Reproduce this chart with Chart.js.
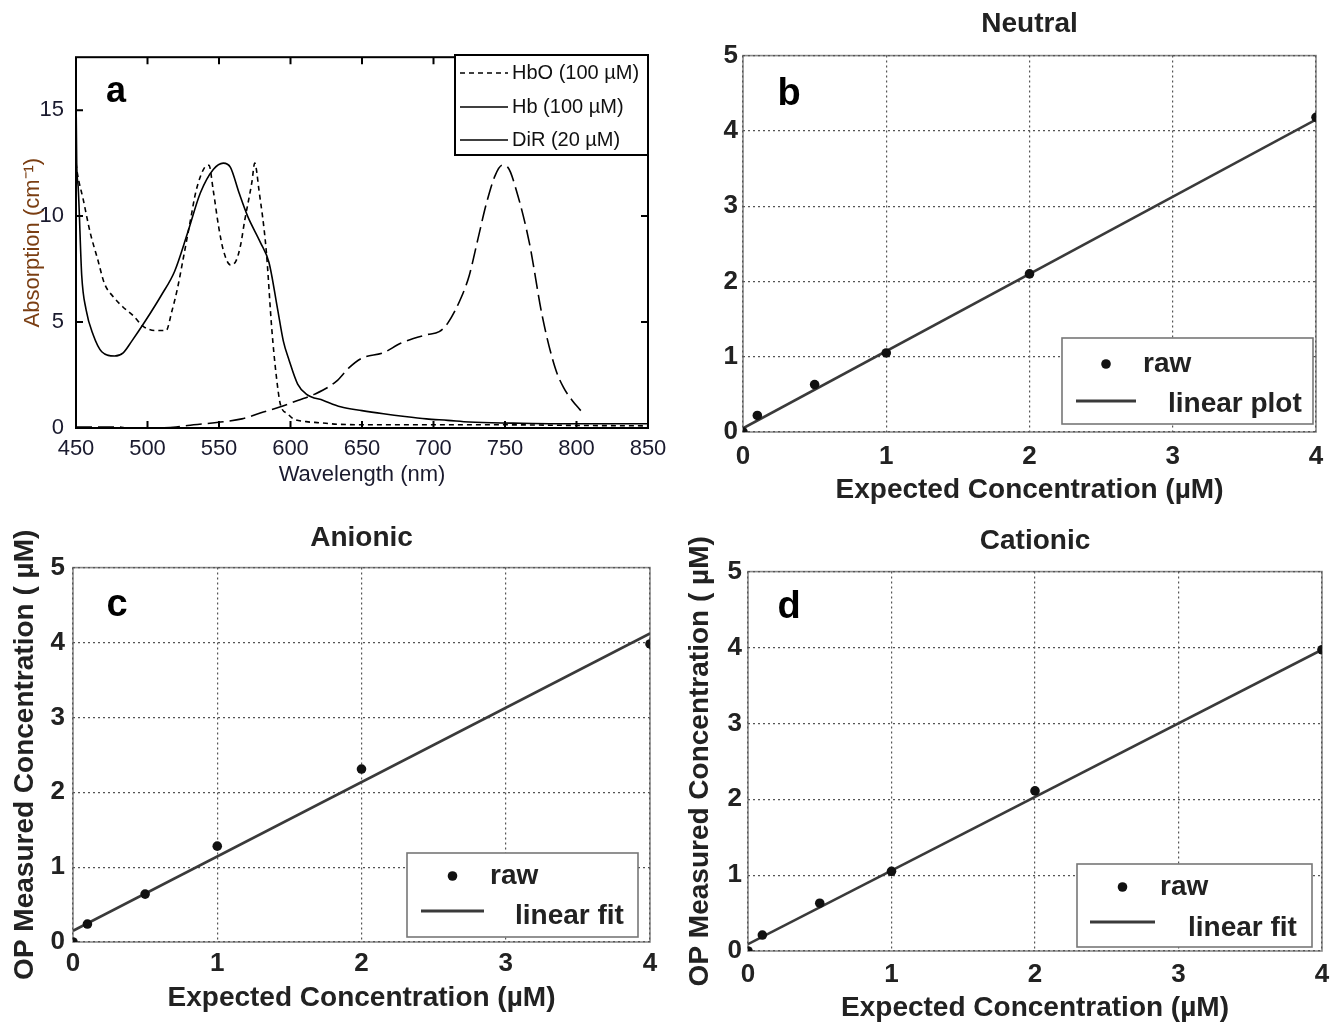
<!DOCTYPE html>
<html lang="en">
<head>
<meta charset="UTF-8">
<title>Absorption spectra and OP measured concentration</title>
<script src="https://cdn.jsdelivr.net/npm/chart.js"></script>
<style>
  body { margin: 0; background: #fff; width: 1340px; height: 1026px; position: relative; overflow: hidden; }
  canvas { position: absolute; }
  #panelA { left: 0; top: 40px; }
  #panelB { left: 700px; top: 0; }
  #panelC { left: 0; top: 515px; }
  #panelD { left: 680px; top: 515px; }
</style>
</head>
<body>
<canvas id="panelA" width="680" height="470"></canvas>
<canvas id="panelB" width="640" height="510"></canvas>
<canvas id="panelC" width="670" height="511"></canvas>
<canvas id="panelD" width="660" height="511"></canvas>
<script>
// panel a - absorption spectra
const hboWl  = [450, 451, 455, 460, 465, 470, 476, 483, 490, 497, 505, 513, 517, 521, 525, 530, 534, 540, 543, 546, 550, 553, 558, 562, 565, 568, 573, 575, 578, 583, 587, 590, 593, 598, 602, 611, 620, 635, 660, 700, 750, 800, 850];
const hboAbs = [12.5, 12.0, 10.8, 9.2, 8.0, 6.8, 6.2, 5.7, 5.3, 4.8, 4.6, 4.6, 5.5, 6.6, 8.0, 9.8, 11.2, 12.3, 12.4, 11.2, 9.4, 8.4, 7.7, 7.9, 8.6, 9.8, 11.6, 12.5, 11.2, 8.4, 4.6, 2.5, 1.1, 0.67, 0.43, 0.3, 0.25, 0.17, 0.15, 0.15, 0.15, 0.12, 0.1];

const hbWl  = [450, 450.5, 451.5, 454, 457, 462, 468, 477, 483, 489, 498, 510, 519, 528, 537, 546, 553, 558, 564, 570, 579, 585, 591, 595, 599, 605, 611, 623, 635, 650, 665, 680, 695, 710, 725, 756, 786, 850];
const hbAbs = [16.0, 12.5, 11.4, 7.2, 5.6, 4.4, 3.6, 3.4, 3.55, 4.1, 5.0, 6.3, 7.4, 9.2, 11.1, 12.2, 12.5, 12.3, 11.1, 10.0, 8.75, 7.8, 5.6, 4.1, 3.2, 2.07, 1.6, 1.3, 1.0, 0.82, 0.67, 0.54, 0.43, 0.36, 0.28, 0.23, 0.2, 0.2];

const dirWl  = [450, 480, 486, 500, 520, 528, 551, 566, 581, 593, 605, 617, 632, 641, 650, 665, 677, 695, 704, 710, 719, 725, 731, 737, 743, 748, 752, 758, 767, 776, 785, 791, 797, 803];
const dirAbs = [0.05, 0.05, 0, 0, 0.05, 0.12, 0.28, 0.43, 0.75, 1.0, 1.3, 1.6, 2.2, 2.85, 3.3, 3.55, 4.0, 4.4, 4.55, 4.95, 6.1, 7.2, 8.9, 10.6, 11.9, 12.4, 12.3, 11.2, 8.75, 5.3, 2.85, 1.9, 1.3, 0.82];

const wlTicks  = [450, 500, 550, 600, 650, 700, 750, 800, 850];
const absTicks = [0, 5, 10, 15];

// panels b, c, d - expected vs measured concentration
const concX       = [0, 0.1, 0.5, 1, 2, 4];
const neutralRaw  = [0, 0.22, 0.63, 1.05, 2.1, 4.18];
const anionicRaw  = [0, 0.24, 0.64, 1.28, 2.31, 3.98];
const cationicRaw = [0, 0.21, 0.63, 1.05, 2.11, 3.97];

const fitX        = [0, 4];
const neutralFit  = [0.05, 4.15];
const anionicFit  = [0.15, 4.12];
const cationicFit = [0.09, 3.97];

const concTicks = [0, 1, 2, 3, 4];
const measTicks = [0, 1, 2, 3, 4, 5];

const SANS = "'Liberation Sans', Arial, sans-serif";

function pairs(xs, ys) {
  return xs.map((x, i) => ({ x: x, y: ys[i] }));
}

// box around the plot area, optional inward ticks (matlab style)
const frameTicks = {
  id: 'frameTicks',
  draw(chart, opts) {
    const { ctx, chartArea: a, scales } = chart;
    ctx.save();
    ctx.setLineDash([]);
    ctx.strokeStyle = opts.color;
    ctx.lineWidth = opts.width;
    ctx.strokeRect(a.left, a.top, a.right - a.left, a.bottom - a.top);
    if (opts.tickLen) {
      const t = opts.tickLen;
      ctx.beginPath();
      scales.x.ticks.forEach(tk => {
        const px = scales.x.getPixelForValue(tk.value);
        ctx.moveTo(px, a.bottom); ctx.lineTo(px, a.bottom - t);
        ctx.moveTo(px, a.top); ctx.lineTo(px, a.top + t);
      });
      scales.y.ticks.forEach(tk => {
        const py = scales.y.getPixelForValue(tk.value);
        ctx.moveTo(a.left, py); ctx.lineTo(a.left + t, py);
        ctx.moveTo(a.right, py); ctx.lineTo(a.right - t, py);
      });
      ctx.stroke();
    }
    ctx.restore();
  },
  beforeDraw(chart, args, opts) { if (opts.under) this.draw(chart, opts); },
  afterDatasetsDraw(chart, args, opts) { if (!opts.under) this.draw(chart, opts); }
};

// panel letter and the boxed legend inside the plot
const panelDecor = {
  id: 'panelDecor',
  afterDraw(chart, args, opts) {
    const ctx = chart.ctx;
    ctx.save();
    ctx.fillStyle = '#000';
    ctx.font = opts.letterFont;
    ctx.textAlign = 'center';
    ctx.textBaseline = 'middle';
    ctx.fillText(opts.letter, opts.letterX, opts.letterY);

    const lg = opts.legend;
    ctx.fillStyle = '#fff';
    ctx.fillRect(lg.x, lg.y, lg.w, lg.h);
    ctx.strokeStyle = lg.border;
    ctx.lineWidth = lg.borderWidth;
    ctx.strokeRect(lg.x, lg.y, lg.w, lg.h);

    ctx.font = lg.font;
    ctx.textAlign = 'left';
    lg.items.forEach(it => {
      const ds = chart.data.datasets[it.ds];
      if (it.dot) {
        ctx.fillStyle = ds.pointBackgroundColor;
        ctx.beginPath();
        ctx.arc((it.x0 + it.x1) / 2, it.y, ds.pointRadius, 0, Math.PI * 2);
        ctx.fill();
      } else {
        ctx.strokeStyle = ds.borderColor;
        ctx.lineWidth = it.lineWidth || ds.borderWidth;
        ctx.setLineDash(it.dash);
        ctx.beginPath();
        ctx.moveTo(it.x0, it.y);
        ctx.lineTo(it.x1, it.y);
        ctx.stroke();
        ctx.setLineDash([]);
      }
      ctx.fillStyle = lg.color;
      ctx.fillText(ds.label, it.tx, it.ty);
    });
    ctx.restore();
  }
};

// ---- panel a ----
new Chart(document.getElementById('panelA'), {
  type: 'scatter',
  data: {
    datasets: [
      { label: 'HbO (100 \u00b5M)', data: pairs(hboWl, hboAbs), showLine: true, borderColor: '#000', borderWidth: 1.6, borderDash: [5, 4], pointRadius: 0, cubicInterpolationMode: 'monotone' },
      { label: 'Hb (100 \u00b5M)', data: pairs(hbWl, hbAbs), showLine: true, borderColor: '#000', borderWidth: 1.6, pointRadius: 0, cubicInterpolationMode: 'monotone' },
      { label: 'DiR (20 \u00b5M)', data: pairs(dirWl, dirAbs), showLine: true, borderColor: '#000', borderWidth: 1.6, borderDash: [16, 6], pointRadius: 0, cubicInterpolationMode: 'monotone' }
    ]
  },
  options: {
    responsive: false,
    animation: false,
    layout: { padding: { top: 15, right: 32, left: 0, bottom: 0 } },
    plugins: {
      legend: { display: false },
      tooltip: { enabled: false },
      frameTicks: { color: '#000', width: 2, tickLen: 7 },
      panelDecor: {
        letter: 'a', letterX: 116, letterY: 52, letterFont: 'bold 36px ' + SANS,
        legend: {
          x: 455, y: 15, w: 193, h: 100, border: '#000', borderWidth: 2,
          font: '20px ' + SANS, color: '#111',
          items: [
            { ds: 0, x0: 460, x1: 508, y: 33, tx: 512, ty: 33, dash: [5, 4] },
            { ds: 1, x0: 460, x1: 508, y: 67, tx: 512, ty: 67, dash: [] },
            { ds: 2, x0: 460, x1: 508, y: 100, tx: 512, ty: 100, dash: [] }
          ]
        }
      }
    },
    scales: {
      x: {
        type: 'linear', min: 450, max: 850,
        afterBuildTicks: s => { s.ticks = wlTicks.map(v => ({ value: v })); },
        afterFit: s => { s.height = 82; },
        grid: { display: false }, border: { display: false },
        ticks: { font: { family: SANS, size: 22 }, color: '#1a1a2e', padding: 0, maxRotation: 0 },
        title: { display: true, text: 'Wavelength (nm)', font: { family: SANS, size: 22 }, color: '#1a1a2e', padding: { top: 0, bottom: 22 } }
      },
      y: {
        min: 0, max: 17.5,
        afterBuildTicks: s => { s.ticks = absTicks.map(v => ({ value: v })); },
        afterFit: s => { s.width = 76; },
        grid: { display: false }, border: { display: false },
        ticks: { font: { family: SANS, size: 22 }, color: '#1a1a2e', padding: 4 },
        title: { display: true, text: 'Absorption (cm\u207b\u00b9)', font: { family: SANS, size: 22 }, color: '#7a3e12', padding: { top: 20, bottom: 0 } }
      }
    }
  },
  plugins: [frameTicks, panelDecor]
});

// ---- panels b, c, d ----
function concChart(id, p) {
  new Chart(document.getElementById(id), {
    type: 'scatter',
    data: {
      datasets: [
        { label: 'raw', data: pairs(concX, p.raw), showLine: false, pointRadius: 4.8, pointBackgroundColor: '#111', pointBorderWidth: 0 },
        { label: p.fitLabel, data: pairs(fitX, p.fit), showLine: true, borderColor: '#3a3a3a', borderWidth: 2.6, pointRadius: 0 }
      ]
    },
    options: {
      responsive: false,
      animation: false,
      layout: { padding: { top: 0, right: p.padRight, left: 0, bottom: 0 } },
      plugins: {
        legend: { display: false },
        tooltip: { enabled: false },
        title: { display: true, fullSize: false, text: p.title, font: { family: SANS, size: 28, weight: 'bold' }, color: '#222', padding: p.titlePad },
        frameTicks: { color: '#8a8a8a', width: 1.6, tickLen: 0, under: true },
        panelDecor: {
          letter: p.letter, letterX: p.letterPos[0], letterY: p.letterPos[1], letterFont: 'bold 38px ' + SANS,
          legend: Object.assign({ border: '#777', borderWidth: 1.6, font: 'bold 28px ' + SANS, color: '#222' }, p.legend)
        }
      },
      scales: {
        x: {
          type: 'linear', min: 0, max: 4,
          afterBuildTicks: s => { s.ticks = concTicks.map(v => ({ value: v })); },
          afterFit: s => { s.height = p.xHeight; },
          grid: { color: '#555', lineWidth: 1.2, drawTicks: false },
          border: { display: false, dash: [2, 3] },
          ticks: { font: { family: SANS, size: 26, weight: 'bold' }, color: '#222', padding: p.xTickPad, maxRotation: 0 },
          title: { display: true, text: 'Expected Concentration (\u00b5M)', font: { family: SANS, size: 28, weight: 'bold' }, color: '#222', padding: { top: 0, bottom: p.xTitlePad } }
        },
        y: {
          min: 0, max: 5,
          afterBuildTicks: s => { s.ticks = measTicks.map(v => ({ value: v })); },
          afterFit: s => { s.width = p.yWidth; },
          grid: { color: '#555', lineWidth: 1.2, drawTicks: false },
          border: { display: false, dash: [2, 3] },
          ticks: { font: { family: SANS, size: 26, weight: 'bold' }, color: '#222', padding: p.yTickPad },
          title: { display: p.yTitle, text: 'OP Measured Concentration ( \u00b5M)', font: { family: SANS, size: 28, weight: 'bold' }, color: '#222', padding: { top: p.yTitlePad, bottom: 0 } }
        }
      }
    },
    plugins: [frameTicks, panelDecor]
  });
}

concChart('panelB', {
  raw: neutralRaw, fit: neutralFit, fitLabel: 'linear plot', title: 'Neutral',
  titlePad: { top: 7, bottom: 15 }, padRight: 24, xHeight: 78, yWidth: 43,
  xTickPad: 9, xTitlePad: 3, yTickPad: 5, yTitle: false, yTitlePad: 0,
  letter: 'b', letterPos: [89, 95],
  legend: {
    x: 362, y: 338, w: 251, h: 86,
    items: [
      { ds: 0, dot: true, x0: 376, x1: 436, y: 364, tx: 443, ty: 364 },
      { ds: 1, x0: 376, x1: 436, y: 401, tx: 468, ty: 404, dash: [], lineWidth: 3 }
    ]
  }
});

concChart('panelC', {
  raw: anionicRaw, fit: anionicFit, fitLabel: 'linear fit', title: 'Anionic',
  titlePad: { top: 6, bottom: 13 }, padRight: 20, xHeight: 84, yWidth: 73,
  xTickPad: 6, xTitlePad: 11, yTickPad: 8, yTitle: true, yTitlePad: 8,
  letter: 'c', letterPos: [117, 91],
  legend: {
    x: 407, y: 338, w: 231, h: 84,
    items: [
      { ds: 0, dot: true, x0: 421, x1: 484, y: 361, tx: 490, ty: 361 },
      { ds: 1, x0: 421, x1: 484, y: 396, tx: 515, ty: 401, dash: [], lineWidth: 3 }
    ]
  }
});

concChart('panelD', {
  raw: cationicRaw, fit: cationicFit, fitLabel: 'linear fit', title: 'Cationic',
  titlePad: { top: 9, bottom: 14 }, padRight: 18, xHeight: 75, yWidth: 68,
  xTickPad: 8, xTitlePad: 1, yTickPad: 6, yTitle: true, yTitlePad: 3,
  letter: 'd', letterPos: [109, 93],
  legend: {
    x: 397, y: 349, w: 235, h: 83,
    items: [
      { ds: 0, dot: true, x0: 410, x1: 475, y: 372, tx: 480, ty: 372 },
      { ds: 1, x0: 410, x1: 475, y: 407, tx: 508, ty: 413, dash: [], lineWidth: 3 }
    ]
  }
});
</script>
</body>
</html>
